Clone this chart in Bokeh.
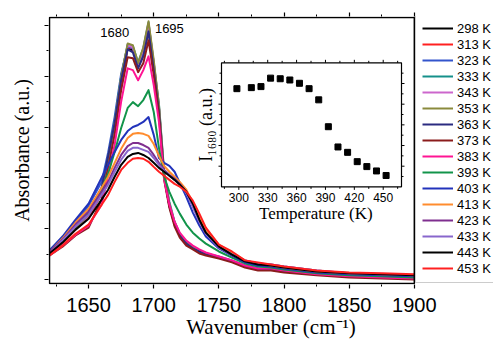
from math import pi
from bokeh.plotting import figure
from bokeh.models import Range1d, FixedTicker, LinearAxis, Legend, LegendItem, Label
from bokeh.core.properties import value
from bokeh.embed import file_html
from bokeh.resources import INLINE

# ---------------- data ----------------
wavenumber = [1620, 1630, 1640, 1650, 1660, 1665, 1670, 1675, 1680, 1684, 1688, 1692, 1696,
              1700, 1704, 1708, 1712, 1716, 1720, 1725, 1730, 1735, 1740, 1750, 1760, 1770,
              1780, 1790, 1800, 1825, 1850, 1875, 1900]

a298 = [0.102, 0.145, 0.200, 0.247, 0.341, 0.465, 0.595, 0.775, 0.910, 0.902, 0.839, 0.886, 0.980,
        0.831, 0.665, 0.404, 0.290, 0.216, 0.173, 0.141, 0.122, 0.110, 0.098, 0.086, 0.071, 0.051,
        0.039, 0.039, 0.031, 0.020, 0.012, 0.008, 0.004]
a313 = [0.102, 0.141, 0.196, 0.243, 0.337, 0.460, 0.595, 0.780, 0.914, 0.910, 0.843, 0.898, 0.992,
        0.839, 0.675, 0.408, 0.294, 0.220, 0.173, 0.141, 0.122, 0.110, 0.098, 0.088, 0.073, 0.053,
        0.041, 0.041, 0.033, 0.022, 0.014, 0.010, 0.006]
a323 = [0.114, 0.165, 0.227, 0.290, 0.384, 0.500, 0.640, 0.810, 0.918, 0.910, 0.847, 0.894, 0.988,
        0.839, 0.675, 0.408, 0.294, 0.220, 0.176, 0.145, 0.125, 0.110, 0.102, 0.090, 0.075, 0.055,
        0.043, 0.043, 0.035, 0.024, 0.016, 0.012, 0.008]
a333 = [0.106, 0.149, 0.204, 0.259, 0.353, 0.478, 0.620, 0.800, 0.925, 0.918, 0.855, 0.910, 1.012,
        0.851, 0.690, 0.424, 0.306, 0.227, 0.180, 0.149, 0.129, 0.114, 0.102, 0.086, 0.071, 0.051,
        0.039, 0.039, 0.031, 0.020, 0.012, 0.008, 0.004]
a343 = [0.106, 0.145, 0.200, 0.251, 0.345, 0.470, 0.605, 0.790, 0.922, 0.914, 0.847, 0.906, 1.008,
        0.855, 0.680, 0.412, 0.298, 0.220, 0.176, 0.145, 0.125, 0.110, 0.098, 0.086, 0.071, 0.053,
        0.041, 0.041, 0.033, 0.020, 0.012, 0.008, 0.004]
a353 = [0.102, 0.145, 0.200, 0.255, 0.345, 0.475, 0.612, 0.796, 0.929, 0.922, 0.851, 0.914, 1.016,
        0.863, 0.686, 0.416, 0.298, 0.224, 0.176, 0.145, 0.125, 0.110, 0.098, 0.086, 0.071, 0.051,
        0.039, 0.039, 0.031, 0.020, 0.012, 0.008, 0.004]
a363 = [0.106, 0.153, 0.212, 0.267, 0.361, 0.485, 0.615, 0.785, 0.906, 0.894, 0.831, 0.878, 0.976,
        0.824, 0.660, 0.400, 0.290, 0.216, 0.173, 0.141, 0.122, 0.110, 0.098, 0.086, 0.071, 0.051,
        0.039, 0.039, 0.031, 0.020, 0.012, 0.008, 0.004]
a373 = [0.094, 0.129, 0.173, 0.204, 0.314, 0.440, 0.570, 0.745, 0.875, 0.871, 0.816, 0.851, 0.941,
        0.804, 0.645, 0.392, 0.282, 0.208, 0.165, 0.133, 0.118, 0.102, 0.094, 0.082, 0.067, 0.047,
        0.035, 0.035, 0.027, 0.016, 0.008, 0.004, 0.000]
a383 = [0.094, 0.133, 0.176, 0.212, 0.294, 0.410, 0.530, 0.700, 0.831, 0.824, 0.784, 0.824, 0.878,
        0.765, 0.620, 0.392, 0.294, 0.227, 0.184, 0.153, 0.133, 0.118, 0.106, 0.090, 0.075, 0.055,
        0.043, 0.043, 0.035, 0.020, 0.012, 0.008, 0.004]
a393 = [0.106, 0.153, 0.208, 0.263, 0.357, 0.416, 0.502, 0.596, 0.675, 0.698, 0.682, 0.706, 0.745,
        0.659, 0.518, 0.404, 0.345, 0.298, 0.259, 0.216, 0.184, 0.161, 0.141, 0.110, 0.086, 0.063,
        0.051, 0.047, 0.039, 0.024, 0.016, 0.012, 0.008]
a403 = [0.114, 0.169, 0.235, 0.298, 0.400, 0.451, 0.502, 0.549, 0.584, 0.600, 0.608, 0.620, 0.639,
        0.569, 0.478, 0.459, 0.447, 0.424, 0.380, 0.325, 0.263, 0.212, 0.169, 0.122, 0.094, 0.067,
        0.055, 0.051, 0.043, 0.027, 0.020, 0.016, 0.012]
a413 = [0.106, 0.161, 0.224, 0.278, 0.361, 0.404, 0.459, 0.514, 0.557, 0.573, 0.576, 0.573, 0.565,
        0.533, 0.486, 0.447, 0.424, 0.404, 0.384, 0.353, 0.302, 0.243, 0.196, 0.137, 0.106, 0.075,
        0.063, 0.055, 0.047, 0.031, 0.024, 0.020, 0.016]
a423 = [0.106, 0.157, 0.216, 0.267, 0.345, 0.384, 0.439, 0.490, 0.525, 0.537, 0.537, 0.529, 0.518,
        0.490, 0.459, 0.431, 0.412, 0.396, 0.376, 0.345, 0.290, 0.231, 0.184, 0.129, 0.098, 0.075,
        0.063, 0.059, 0.051, 0.035, 0.024, 0.020, 0.016]
a433 = [0.102, 0.153, 0.208, 0.255, 0.333, 0.373, 0.424, 0.471, 0.506, 0.518, 0.518, 0.510, 0.502,
        0.478, 0.451, 0.427, 0.408, 0.392, 0.373, 0.341, 0.286, 0.227, 0.180, 0.125, 0.098, 0.075,
        0.063, 0.059, 0.051, 0.035, 0.024, 0.020, 0.016]
a443 = [0.102, 0.145, 0.196, 0.239, 0.314, 0.353, 0.404, 0.451, 0.482, 0.494, 0.498, 0.490, 0.478,
        0.459, 0.439, 0.424, 0.408, 0.392, 0.373, 0.345, 0.298, 0.235, 0.184, 0.129, 0.098, 0.071,
        0.059, 0.055, 0.047, 0.031, 0.024, 0.020, 0.016]
a453 = [0.094, 0.133, 0.180, 0.216, 0.294, 0.333, 0.384, 0.431, 0.459, 0.475, 0.478, 0.475, 0.463,
        0.443, 0.424, 0.408, 0.392, 0.376, 0.365, 0.345, 0.310, 0.259, 0.204, 0.137, 0.110, 0.075,
        0.067, 0.059, 0.051, 0.035, 0.027, 0.024, 0.020]

series_labels = ["298 K", "313 K", "323 K", "333 K", "343 K", "353 K", "363 K", "373 K",
                 "383 K", "393 K", "403 K", "413 K", "423 K", "433 K", "443 K", "453 K"]
series_values = [a298, a313, a323, a333, a343, a353, a363, a373,
                 a383, a393, a403, a413, a423, a433, a443, a453]
series_colors = ["#000000", "#ff2020", "#3355cc", "#15908a", "#cc66cc", "#8a8a3c", "#2b2b80",
                 "#8b1c1c", "#ff1493", "#12944a", "#2233bb", "#ff8c2e", "#7f2f8f", "#8866cc",
                 "#000000", "#ff2020"]

peak_labels = ["1680", "1695"]
peak_label_x = [1670, 1712]
peak_label_y = [0.973, 0.988]

# main axes limits (the drawn box) and ticks
wn_lo, wn_hi = 1620, 1900
abs_lo, abs_hi = -0.016, 1.031
x_major = [1650, 1700, 1750, 1800, 1850, 1900]
x_minor = [1625, 1675, 1725, 1775, 1825, 1875]
y_major = [0.0, 0.2, 0.4, 0.6, 0.8, 1.0]
y_minor = [0.1, 0.3, 0.5, 0.7, 0.9]

# inset data
temperature = [298, 313, 323, 333, 343, 353, 363, 373, 383, 393, 403, 413, 423, 433, 443, 453]
i1680 = [4.75, 4.80, 4.85, 5.26, 5.23, 5.17, 5.01, 4.75, 4.21, 2.91, 1.93, 1.67, 1.22, 0.98, 0.77, 0.55]
t_major = [300, 330, 360, 390, 420, 450]
t_minor = [285, 315, 345, 375, 405, 435, 465]
t_labels = ["300", "330", "360", "390", "420", "450"]
i_major = [1, 2, 3, 4, 5]
i_minor = [0.5, 1.5, 2.5, 3.5, 4.5, 5.5]
inset_t_lo, inset_t_hi = 282, 469
inset_i_lo, inset_i_hi = 0, 6

SANS = "Liberation Sans"
SERIF = "Liberation Serif"

# ---------------- main plot ----------------
# the frame is wide enough to hold the legend at its right; the data box is drawn as a quad
p = figure(width=493, height=341, x_range=Range1d(1619.23, 1960.77), y_range=Range1d(-0.020, 1.035),
           output_backend="svg", toolbar_location=None,
           min_border_left=48, min_border_right=0, min_border_top=16, min_border_bottom=56)
p.extra_x_ranges = {"tx": Range1d(102.27, 564.58)}
p.extra_y_ranges = {"iy": Range1d(-4.723, 8.241)}

p.outline_line_color = None
p.xgrid.grid_line_color = None
p.ygrid.grid_line_color = None
p.background_fill_color = "white"
p.border_fill_color = "white"

xa = p.below[0]
xa.ticker = FixedTicker(ticks=x_major, minor_ticks=x_minor)
xa.axis_line_color = None
xa.major_tick_in = 0
xa.major_tick_out = 4
xa.minor_tick_in = 0
xa.minor_tick_out = 2
xa.major_tick_line_width = 1.2
xa.major_label_text_font = SANS
xa.major_label_text_font_size = "20px"
xa.major_label_text_color = "black"
xa.major_label_standoff = 9
xa.axis_label = "Wavenumber (cm\u207b\u00b9)"
xa.axis_label_text_font = SERIF
xa.axis_label_text_font_size = "21px"
xa.axis_label_text_font_style = "normal"
xa.axis_label_text_color = "black"
xa.axis_label_standoff = 0

ya = p.left[0]
ya.ticker = FixedTicker(ticks=y_major, minor_ticks=y_minor)
ya.axis_line_color = None
ya.major_tick_in = 0
ya.major_tick_out = 4
ya.minor_tick_in = 0
ya.minor_tick_out = 2
ya.major_tick_line_width = 1.2
ya.major_label_text_font_size = "1px"
ya.major_label_text_color = None
ya.major_label_standoff = 0
ya.axis_label = "Absorbance (a.u.)"
ya.axis_label_text_font = SERIF
ya.axis_label_text_font_size = "20px"
ya.axis_label_text_font_style = "normal"
ya.axis_label_text_color = "black"
ya.axis_label_standoff = 12

ta = LinearAxis(ticker=FixedTicker(ticks=x_major, minor_ticks=x_minor), axis_line_color=None,
                major_tick_in=0, major_tick_out=4, minor_tick_in=0, minor_tick_out=2,
                major_tick_line_width=1.2,
                major_label_text_font_size="1px", major_label_text_color=None,
                major_label_standoff=0)
p.add_layout(ta, "above")

items = []
for lab, vals, col in zip(series_labels, series_values, series_colors):
    r = p.line(wavenumber, vals, line_color=col, line_width=2, line_join="round")
    items.append(LegendItem(label=lab, renderers=[r]))

# box of the main plot
p.quad(left=[wn_lo], right=[wn_hi], bottom=[abs_lo], top=[abs_hi],
       fill_color=None, line_color="black", line_width=1.5)

legend = Legend(items=items, location=(367, 1), orientation="vertical",
                glyph_width=31, glyph_height=16, label_height=16, spacing=0,
                padding=6, margin=0, label_standoff=4,
                label_text_font=SANS, label_text_font_size="13px", label_text_color="black",
                border_line_color="#999999", border_line_width=1,
                background_fill_color="white", background_fill_alpha=1.0)
p.add_layout(legend)

for t, lx, ly in zip(peak_labels, peak_label_x, peak_label_y):
    p.add_layout(Label(x=lx, y=ly, text=t, text_align="center", text_baseline="middle",
                       text_font=SANS, text_font_size="13px", text_color="black"))

# ---------------- inset (drawn on the secondary ranges) ----------------
rk = dict(x_range_name="tx", y_range_name="iy")
p.quad(left=[inset_t_lo], right=[inset_t_hi], bottom=[inset_i_lo], top=[inset_i_hi],
       fill_color="white", line_color="black", line_width=1.2, **rk)

tick_style = dict(line_color="black", line_width=1, length_units="screen", **rk)
p.ray(x=t_major, y=[inset_i_lo] * len(t_major), length=3, angle=-pi / 2, **tick_style)
p.ray(x=t_minor, y=[inset_i_lo] * len(t_minor), length=2, angle=-pi / 2, **tick_style)
p.ray(x=t_major, y=[inset_i_hi] * len(t_major), length=3, angle=pi / 2, **tick_style)
p.ray(x=t_minor, y=[inset_i_hi] * len(t_minor), length=2, angle=pi / 2, **tick_style)
p.ray(x=[inset_t_lo] * len(i_major), y=i_major, length=3, angle=pi, **tick_style)
p.ray(x=[inset_t_lo] * len(i_minor), y=i_minor, length=2, angle=pi, **tick_style)
p.ray(x=[inset_t_hi] * len(i_major), y=i_major, length=3, angle=0, **tick_style)
p.ray(x=[inset_t_hi] * len(i_minor), y=i_minor, length=2, angle=0, **tick_style)

p.text(x=t_major, y=[inset_i_lo] * len(t_major), text=t_labels, y_offset=11,
       text_align="center", text_baseline="middle", text_font=value(SANS),
       text_font_size="12px", text_color="black", **rk)
p.text(x=[380], y=[inset_i_lo], text=["Temperature (K)"], y_offset=27,
       text_align="center", text_baseline="middle", text_font=value(SERIF),
       text_font_size="17px", text_color="black", **rk)
p.text(x=[inset_t_lo], y=[3], text=["I\u2081\u2086\u2088\u2080 (a.u.)"], x_offset=-16, angle=pi / 2,
       text_align="center", text_baseline="middle", text_font=value(SERIF),
       text_font_size="18px", text_color="black", **rk)

p.scatter(temperature, i1680, marker="square", size=6, fill_color="black", line_color="black", **rk)

open("out.html", "w").write(file_html(p, INLINE))
